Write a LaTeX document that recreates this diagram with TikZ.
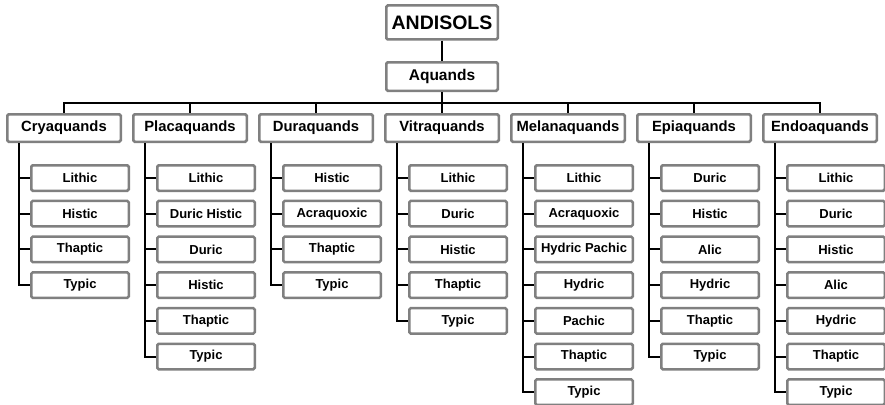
\documentclass[tikz,border=0pt]{standalone}
\usepackage{fontspec}
\setmainfont{Liberation Sans}
\definecolor{boxgray}{RGB}{128,128,128}
\tikzset{
  basebox/.style={draw=boxgray, line width=2.5pt, rounded corners=1.5pt, fill=white, inner sep=0pt, font=\bfseries},
  lvone/.style={basebox, minimum width=111.5pt, minimum height=34pt, font=\bfseries\fontsize{19.5}{22}\selectfont},
  lvaq/.style={basebox, minimum width=111.5pt, minimum height=28.5pt, font=\bfseries\fontsize{15.5}{18}\selectfont},
  lvtwo/.style={basebox, minimum width=113.5pt, minimum height=27.5pt, font=\bfseries\fontsize{14.8}{17}\selectfont},
  lvthree/.style={basebox, minimum width=97.5pt, minimum height=25.5pt, font=\bfseries\fontsize{13}{15}\selectfont},
  conn/.style={draw=black, line width=2pt}
}
\newcommand\mybranch[3]{%
  \node[lvtwo] (#1) at (#2,-128) {#1};
  \draw[conn] (bus) -| (#1.north);
  \foreach \t [count=\i] in {#3} {
    \node[lvthree] (#1-\i) at ({#2+16},{-178-35.7*(\i-1)}) {\t};
    \draw[conn] ([xshift=13pt]#1.south west) |- (#1-\i.west);
  }
}
\begin{document}
\begin{tikzpicture}[x=1pt,y=1pt]
\useasboundingbox (0,0) rectangle (885,-404);
\node[lvone] (andisols) at (442,-22.5) {ANDISOLS};
\node[lvaq] (aquands) at (442,-76.5) {Aquands};
\draw[conn] (andisols.south) -- (aquands.north);
\coordinate (bus) at (442,-103);
\coordinate (busL) at (64,-103);
\coordinate (busR) at (820,-103);
\draw[conn] (aquands.south) -- (bus);
\draw[conn] (busL) -- (busR);
\mybranch{Cryaquands}{64}{Lithic,Histic,Thaptic,Typic}
\mybranch{Placaquands}{190}{Lithic,Duric Histic,Duric,Histic,Thaptic,Typic}
\mybranch{Duraquands}{316}{Histic,Acraquoxic,Thaptic,Typic}
\mybranch{Vitraquands}{442}{Lithic,Duric,Histic,Thaptic,Typic}
\mybranch{Melanaquands}{568}{Lithic,Acraquoxic,Hydric Pachic,Hydric,Pachic,Thaptic,Typic}
\mybranch{Epiaquands}{694}{Duric,Histic,Alic,Hydric,Thaptic,Typic}
\mybranch{Endoaquands}{820}{Lithic,Duric,Histic,Alic,Hydric,Thaptic,Typic}
\end{tikzpicture}
\end{document}
